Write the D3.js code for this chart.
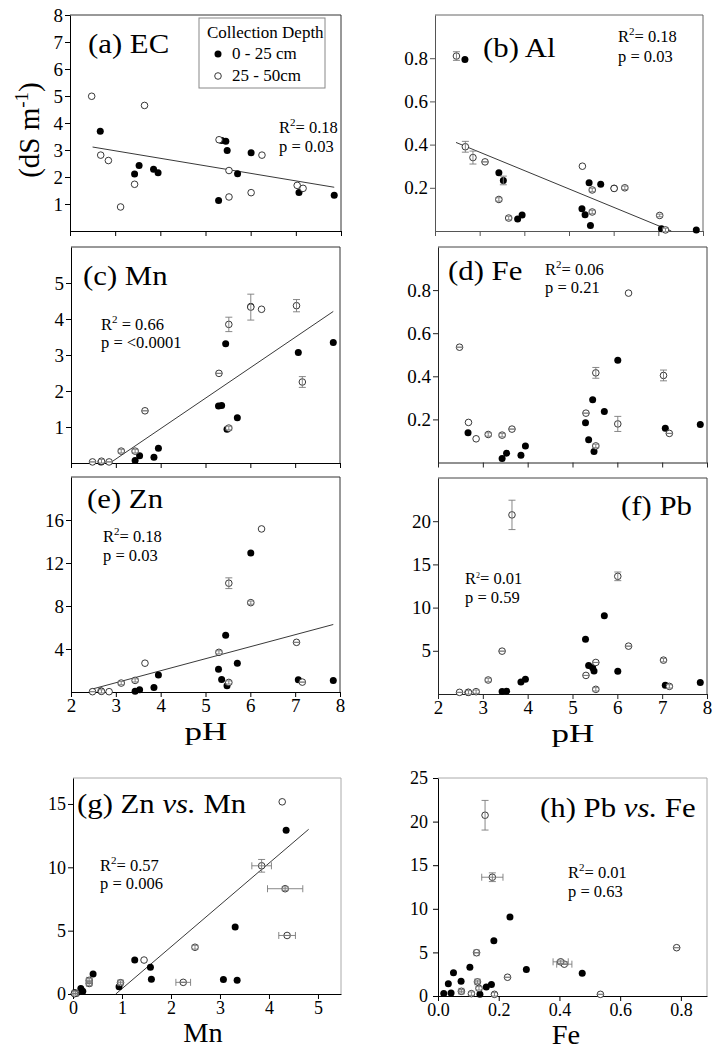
<!DOCTYPE html>
<html><head><meta charset="utf-8">
<script src="https://cdn.jsdelivr.net/npm/d3@7"></script>
<style>body{margin:0;background:#fff} svg text{white-space:pre}</style>
</head><body><svg id="c" width="720" height="1050"></svg>
<script>
// ---------- DATA ----------
const phFilled = [2.67, 3.43, 3.53, 3.85, 3.95, 5.29, 5.36, 5.45, 5.48, 5.71, 6.01, 7.07, 7.85];
const phOpen   = [2.48, 2.68, 2.85, 3.12, 3.43, 3.65, 5.30, 5.52, 5.52, 6.01, 6.25, 7.03, 7.16];

const ecFilled = [3.69, 2.11, 2.43, 2.29, 2.16, 1.13, 3.35, 3.32, 2.98, 2.12, 2.90, 1.43, 1.32];
const ecOpen   = [4.99, 2.81, 2.61, 0.89, 1.73, 4.65, 3.38, 2.24, 1.26, 1.42, 2.81, 1.69, 1.58];

const alFilled    = [0.794, 0.270, 0.234, 0.055, 0.074, 0.103, 0.075, 0.223, 0.026, 0.217, 0.198, 0.010, 0.005];
const alFilledErr = [null, null, 0.02, null, null, null, null, null, null, null, null, null, null];
const alOpen      = [0.81, 0.39, 0.34, 0.32, 0.146, 0.06, 0.30, 0.19, 0.088, 0.197, 0.20, 0.072, 0.005];
const alOpenErr   = [0.02, 0.025, 0.03, 0, 0.008, 0.008, null, 0.008, 0.008, null, 0.008, 0.006, 0.008];

const mnFilled  = [0.03, 0.07, 0.20, 0.16, 0.41, 1.58, 1.60, 3.31, 0.94, 1.26, 4.35, 3.07, 3.35];
const mnOpen    = [0.03, 0.05, 0.03, 0.33, 0.33, 1.45, 2.49, 3.85, 0.97, 4.33, 4.27, 4.37, 2.25];
const mnOpenErr = [0, 0.05, 0, 0.05, 0.05, 0, 0, 0.2, 0.05, 0.36, null, 0.17, 0.15];

const feFilled  = [0.138, 0.019, 0.043, 0.034, 0.076, 0.184, 0.105, 0.291, 0.051, 0.237, 0.475, 0.159, 0.176];
const feOpen    = [0.535, 0.186, 0.110, 0.130, 0.127, 0.155, 0.229, 0.416, 0.077, 0.179, 0.786, 0.404, 0.135];
const feOpenErr = [0, null, null, 0.008, 0.008, 0, 0, 0.025, 0.008, 0.035, null, 0.025, 0];

const znFilled  = [0.10, 0.06, 0.22, 0.43, 1.57, 2.12, 1.17, 5.29, 0.58, 2.68, 12.92, 1.14, 1.08];
const znOpen    = [0.03, 0.06, 0.03, 0.83, 1.08, 2.68, 3.69, 10.12, 0.89, 8.31, 15.17, 4.62, 0.92];
const znOpenErr = [0, 0.15, null, 0.15, 0.15, null, 0.15, 0.5, 0.15, 0.15, null, 0, 0];

const pbFilled  = [0.19, 0.30, 0.33, 1.40, 1.70, 6.33, 3.30, 3.04, 2.67, 9.06, 2.62, 1.02, 1.32];
const pbOpen    = [0.19, 0.19, 0.27, 1.62, 4.96, 20.73, 2.15, 3.65, 0.54, 13.62, 5.54, 3.92, 0.88];
const pbOpenErr = [0, 0.2, 0.2, 0.2, 0, 1.7, 0, 0, 0.2, 0.5, 0, 0.2, 0.2];

const fitEC   = [[2.50, 3.11], [7.85, 1.62]];
const fitAl   = [[2.47, 0.41], [7.29, 0.0]];
const fitMn   = [[2.87, 0.0], [7.85, 4.21]];
const fitZn   = [[2.42, 0.215], [7.85, 6.28]];
const fitZnMn = [[0.873, 0.0], [4.81, 13.0]];

const panelTitles = ['(a) EC', '(b) Al', '(c) Mn', '(d) Fe', '(e) Zn', '(f) Pb', ['(g) Zn ', 'vs.', ' Mn'], ['(h) Pb ', 'vs.', ' Fe']];
const r2Text = ['0.18', '0.18', '0.66', '0.06', '0.18', '0.01', '0.57', '0.01'];
const pText  = ['0.03', '0.03', '<0.0001', '0.21', '0.03', '0.59', '0.006', '0.63'];

const pHTicks  = [2, 3, 4, 5, 6, 7, 8];
const ecTicks  = [1, 2, 3, 4, 5, 6, 7, 8];
const alTicks  = [0.2, 0.4, 0.6, 0.8];
const mnTicks  = [1, 2, 3, 4, 5];
const feTicks  = [0.2, 0.4, 0.6, 0.8];
const znTicks  = [4, 8, 12, 16];
const pbTicks  = [5, 10, 15, 20];
const mnXTicks = [0, 1, 2, 3, 4, 5];
const znYTicks = [0, 5, 10, 15];
const feXTicks = [0, 0.2, 0.4, 0.6, 0.8];
const pbYTicks = [0, 5, 10, 15, 20, 25];

const legendTitle = 'Collection Depth';
const legendLabels = ['0 - 25 cm', '25 - 50cm'];

// ---------- DRAW ----------
const FONT = '"Liberation Serif","Times New Roman",serif';
const svg = d3.select('#c');
svg.append('rect').attr('width', 720).attr('height', 1050).attr('fill', '#fff');

const fInt = d3.format('d'), f1 = d3.format('.1f');
const nul = a => a.map(() => null);

const panels = [
  {l:70, r:341, t:15, b:231, xd:[2,8], yd:[0,8], xt:pHTicks, yt:ecTicks, yf:fInt, xlab:null,
   xF:phFilled, yF:ecFilled, xO:phOpen, yO:ecOpen, eyO:nul(phOpen), fit:fitEC, frame:'#333', axis:'#000',
   title:[88,53,'start'], stat:[279,133,152,false]},
  {l:435, r:703, t:15, b:231, xd:[2,8], yd:[0,1], xt:pHTicks, yt:alTicks, yf:f1, xlab:null,
   xF:phFilled, yF:alFilled, eyF:alFilledErr, xO:phOpen, yO:alOpen, eyO:alOpenErr, fit:fitAl, frame:'#666', axis:'#555',
   title:[483,57,'start'], stat:[618,42,62,false]},
  {l:71, r:340, t:247, b:463, xd:[2,8], yd:[0,6], xt:pHTicks, yt:mnTicks, yf:fInt, xlab:null,
   xF:phFilled, yF:mnFilled, xO:phOpen, yO:mnOpen, eyO:mnOpenErr, fit:fitMn, frame:'#333', axis:'#000',
   title:[83,285,'start'], stat:[101,330,348,true]},
  {l:438, r:707, t:247, b:462.5, xd:[2,8], yd:[0,1], xt:pHTicks, yt:feTicks, yf:f1, xlab:null,
   xF:phFilled, yF:feFilled, xO:phOpen, yO:feOpen, eyO:feOpenErr, fit:null, frame:'#444', axis:'#222',
   title:[448,280,'start'], stat:[545,275,293,false]},
  {l:71, r:340, t:477, b:692, xd:[2,8], yd:[0,20], xt:pHTicks, yt:znTicks, yf:fInt, xlab:fInt,
   xF:phFilled, yF:znFilled, xO:phOpen, yO:znOpen, eyO:znOpenErr, fit:fitZn, frame:'#333', axis:'#000',
   title:[87,508,'start'], stat:[103,542,561,false], xname:['pH',206,740]},
  {l:438, r:707, t:478, b:694, xd:[2,8], yd:[0,25], xt:pHTicks, yt:pbTicks, yf:fInt, xlab:fInt,
   xF:phFilled, yF:pbFilled, xO:phOpen, yO:pbOpen, eyO:pbOpenErr, fit:null, frame:'#444', axis:'#222',
   title:[692,515,'end'], stat:[465,584,603,false,true], xname:['pH',573,742]},
  {l:73, r:341, t:778, b:994, xd:[0,5.47], yd:[0,17.05], xt:mnXTicks, yt:znYTicks, yf:fInt, xlab:fInt, derived:true, ys:18,
   xF:mnFilled, yF:znFilled, xO:mnOpen, yO:znOpen, exO:mnOpenErr, eyO:znOpenErr, fit:fitZnMn, frame:'#aaa', axis:'#000',
   title:[77,813,'start'], stat:[100,871,889,false], xname:['Mn',203,1042]},
  {l:438, r:707, t:778, b:996, xd:[0,0.886], yd:[0,25], xt:feXTicks, yt:pbYTicks, yf:fInt, xlab:f1, derived:true, ys:18, ypad:5,
   xF:feFilled, yF:pbFilled, xO:feOpen, yO:pbOpen, exO:feOpenErr, eyO:pbOpenErr, fit:null, frame:'#aaa', axis:'#000',
   title:[540,817,'start'], stat:[568,878,897,false], xname:['Fe',566,1044]}
];

function errBars(g, x, y, px, py, ex, ey, derived) {
  const cap = 3.5, col = '#7a7a7a';
  if (ey !== null && ey !== undefined) {
    const y1 = y(py - ey), y2 = y(py + ey), cx = x(px);
    g.append('line').attr('x1', cx).attr('x2', cx).attr('y1', y1).attr('y2', y2).attr('stroke', col).attr('stroke-width', 0.9);
    [y1, y2].forEach(yy => g.append('line').attr('x1', cx - cap).attr('x2', cx + cap).attr('y1', yy).attr('y2', yy).attr('stroke', col).attr('stroke-width', 0.9));
  }
  if (derived && ex !== null && ex !== undefined && ex > 0) {
    const x1 = x(px - ex), x2 = x(px + ex), cy = y(py);
    g.append('line').attr('x1', x1).attr('x2', x2).attr('y1', cy).attr('y2', cy).attr('stroke', col).attr('stroke-width', 0.9);
    [x1, x2].forEach(xx => g.append('line').attr('x1', xx).attr('x2', xx).attr('y1', cy - cap).attr('y2', cy + cap).attr('stroke', col).attr('stroke-width', 0.9));
  }
}

panels.forEach((p, k) => {
  const x = d3.scaleLinear().domain(p.xd).range([p.l, p.r]);
  const y = d3.scaleLinear().domain(p.yd).range([p.b, p.t]);
  const g = svg.append('g');
  const [x0, x1] = x.range(), [y0, y1] = y.range();
  g.append('path').attr('d', `M${x0},${y1}H${x1}V${y0}`).attr('fill', 'none').attr('stroke', p.frame).attr('stroke-width', 1);

  const ya = d3.axisLeft(y).tickValues(p.yt).tickFormat(p.yf).tickSize(5).tickSizeOuter(0).tickPadding(p.ypad || 2);
  const yg = g.append('g').attr('transform', `translate(${x0},0)`).call(ya)
    .attr('font-family', FONT).attr('font-size', p.ys || 19);
  const xa = d3.axisBottom(x).tickValues(p.xt).tickFormat(p.xlab ? p.xlab : () => '').tickSize(5).tickSizeOuter(0).tickPadding(2);
  const xg = g.append('g').attr('transform', `translate(0,${y0})`).call(xa)
    .attr('font-family', FONT).attr('font-size', p.ys || 19);
  [yg, xg].forEach(a => {
    a.select('.domain').attr('stroke', p.axis).attr('stroke-width', 1);
    a.selectAll('.tick line').attr('stroke', p.axis);
    a.selectAll('.tick text').attr('fill', '#000');
  });

  if (p.fit) {
    g.append('line').attr('x1', x(p.fit[0][0])).attr('y1', y(p.fit[0][1]))
      .attr('x2', x(p.fit[1][0])).attr('y2', y(p.fit[1][1]))
      .attr('stroke', '#222').attr('stroke-width', 0.9);
  }

  p.xF.forEach((xv, i) => {
    g.append('circle').attr('cx', x(xv)).attr('cy', y(p.yF[i])).attr('r', 3.5).attr('fill', '#000');
  });
  if (p.eyF) p.xF.forEach((xv, i) => errBars(g, x, y, xv, p.yF[i], null, p.eyF[i], false));
  p.xO.forEach((xv, i) => {
    g.append('circle').attr('cx', x(xv)).attr('cy', y(p.yO[i])).attr('r', 3.3)
      .attr('fill', '#fff').attr('stroke', '#222').attr('stroke-width', 0.9);
  });
  p.xO.forEach((xv, i) => errBars(g, x, y, xv, p.yO[i], p.exO ? p.exO[i] : null, p.eyO[i], p.derived));

  // title
  const tt = panelTitles[k];
  const te = g.append('text').attr('transform', `translate(${p.title[0]},${p.title[1]}) scale(1.14,1)`)
    .attr('font-family', FONT).attr('font-size', 27).attr('text-anchor', p.title[2]);
  if (Array.isArray(tt)) {
    te.append('tspan').text(tt[0]);
    te.append('tspan').attr('font-style', 'italic').text(tt[1]);
    te.append('tspan').text(tt[2]);
  } else te.text(tt);

  // stats
  const [sx, sy1, sy2, spaced, tiny] = p.stat;
  const st = g.append('text').attr('x', sx).attr('y', sy1).attr('font-family', FONT).attr('font-size', 16.5);
  st.append('tspan').text('R');
  st.append('tspan').attr('font-size', tiny ? 8 : 11).attr('dy', tiny ? -6 : -7).text('2');
  st.append('tspan').attr('dy', tiny ? 6 : 7).text((spaced ? ' = ' : '= ') + r2Text[k]);
  g.append('text').attr('x', sx).attr('y', sy2).attr('font-family', FONT).attr('font-size', 16.5)
    .text('p = ' + pText[k]);

  if (p.xname) {
    const isPH = p.xname[0] === 'pH';
    g.append('text').attr('transform', `translate(${p.xname[1]},${p.xname[2]}) scale(${isPH ? 1.4 : 1.05},1)`)
      .attr('text-anchor', 'middle').attr('font-family', FONT).attr('font-size', isPH ? 25 : 27).text(p.xname[0]);
  }
});

// y-axis label
const yl = svg.append('text').attr('transform', 'translate(39,130) rotate(-90)').attr('text-anchor', 'middle')
  .attr('font-family', FONT).attr('font-size', 29);
yl.append('tspan').text('(dS m');
yl.append('tspan').attr('font-size', 19).attr('dy', -11).text('-1');
yl.append('tspan').attr('dy', 11).text(')');

// legend
const lg = svg.append('g');
lg.append('rect').attr('x', 199).attr('y', 18).attr('width', 126).attr('height', 70)
  .attr('fill', '#fff').attr('stroke', '#888').attr('stroke-width', 1);
lg.append('text').attr('x', 207).attr('y', 38).attr('font-family', FONT).attr('font-size', 17).text(legendTitle);
lg.append('circle').attr('cx', 218).attr('cy', 54).attr('r', 3.5).attr('fill', '#000');
lg.append('circle').attr('cx', 218).attr('cy', 76).attr('r', 3.3).attr('fill', '#fff').attr('stroke', '#222').attr('stroke-width', 0.9);
lg.append('text').attr('x', 232).attr('y', 59).attr('font-family', FONT).attr('font-size', 17).text(legendLabels[0]);
lg.append('text').attr('x', 232).attr('y', 81).attr('font-family', FONT).attr('font-size', 17).text(legendLabels[1]);
</script>
</body></html>
